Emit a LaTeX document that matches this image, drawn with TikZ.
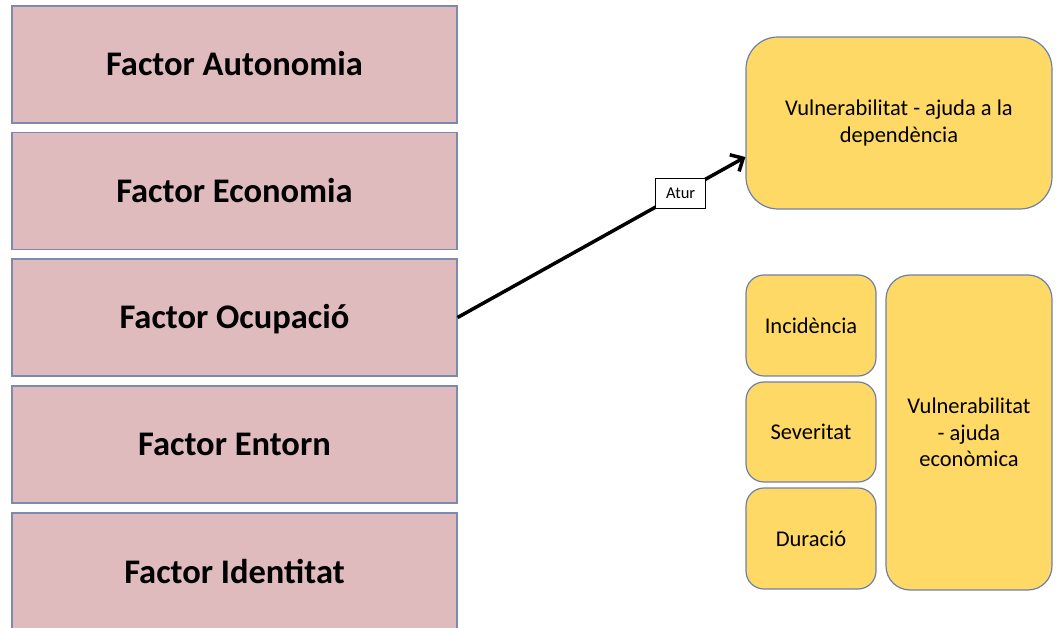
\documentclass[tikz,border=0pt]{standalone}
\usepackage{fontspec}
\setmainfont{Carlito}
\usetikzlibrary{arrows.meta}
\definecolor{factorfill}{RGB}{224,187,189}
\definecolor{factorline}{RGB}{125,138,176}
\definecolor{vulnfill}{RGB}{255,217,102}
\definecolor{vulnline}{RGB}{110,128,170}
\tikzset{
  factor/.style={draw=factorline, line width=1.2pt, fill=factorfill, minimum width=445pt, minimum height=117pt, inner sep=0pt, text height=29pt, text depth=6pt, font=\fontsize{34.5}{40}\selectfont\bfseries},
  vuln/.style={draw=vulnline, line width=1.2pt, fill=vulnfill, rounded corners=#1, inner sep=0pt, align=center, font=\fontsize{22.5}{26.5}\selectfont},
  vuln/.default=22pt,
  tag/.style={draw=black, line width=0.8pt, fill=white, minimum width=50pt, minimum height=30pt, inner sep=0pt, font=\fontsize{16.5}{19}\selectfont}
}
\begin{document}
\begin{tikzpicture}[x=1pt,y=-1pt]
\useasboundingbox (0,0) rectangle (1061,628);
% factor column
\node[factor] (fa) at (234.5,64.5) {Factor Autonomia};
\node[factor] (fe) at (234.5,191) {Factor Economia};
\node[factor] (fo) at (234.5,317.5) {Factor Ocupació};
\node[factor] (fn) at (234.5,444.5) {Factor Entorn};
\node[factor] (fi) at (234.5,571.5) {Factor Identitat};
% vulnerability blocks
\node[vuln=32pt, minimum width=306pt, minimum height=172pt] (vd) at (899,123) {Vulnerabilitat - ajuda a la\\dependència};
\node[vuln=18pt, minimum width=130pt, minimum height=101pt] (inc) at (811,325.5) {Incidència};
\node[vuln=18pt, minimum width=130pt, minimum height=100pt] (sev) at (811,432) {Severitat};
\node[vuln=18pt, minimum width=130pt, minimum height=101pt] (dur) at (811,538.5) {Duració};
\node[vuln=24pt, minimum width=166pt, minimum height=315pt] (ve) at (969,432.5) {Vulnerabilitat\\- ajuda\\econòmica};
% connector
\draw[line width=3.5pt, -{Straight Barb[length=10pt,width=19pt,line width=3.5pt]}] (fo.east) -- (vd.west |- 0,157)
  node[tag, pos=0.775] (atur) {Atur};
\end{tikzpicture}
\end{document}
